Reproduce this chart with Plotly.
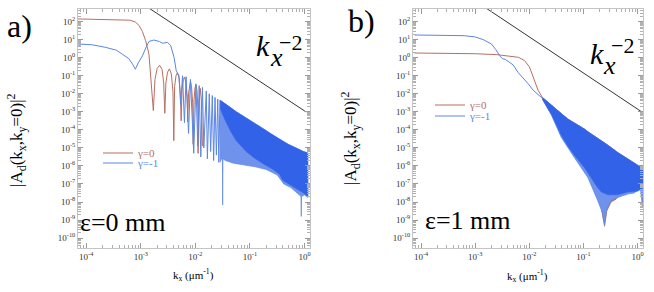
import numpy as np
import plotly.graph_objects as go

# ---------------- data (log10 of kx and of |A_d|^2) -------------
# panel a) eps = 0 mm
a_red_lx = [-4.17, -3.6, -3.4, -3.2, -3.1, -3.03, -2.97, -2.91, -2.85, -2.80, -2.77,
            -2.74, -2.70, -2.655, -2.61, -2.58, -2.56,
            -2.54, -2.51, -2.475, -2.44, -2.41, -2.395,
            -2.38, -2.355, -2.33, -2.30, -2.275, -2.26,
            -2.245, -2.22, -2.20, -2.175, -2.15, -2.14,
            -2.125, -2.105, -2.09, -2.07, -2.05, -2.04,
            -2.025, -2.005, -1.99, -1.97, -1.955, -1.95,
            -1.935, -1.91, -1.89, -1.87]
a_red_ly = [2.15, 2.12, 2.11, 2.08, 1.98, 1.78, 1.45, 0.94, 0.2, -1.66, -2.93,
            -1.2, -0.6, -0.42, -0.65, -1.4, -3.08,
            -1.4, -0.8, -0.62, -0.9, -1.9, -4.6,
            -1.6, -1.0, -0.84, -1.1, -2.0, -3.5,
            -1.8, -1.2, -1.08, -1.35, -2.2, -3.55,
            -2.0, -1.45, -1.3, -1.6, -2.5, -4.8,
            -2.3, -1.65, -1.5, -1.8, -2.8, -5.3,
            -2.5, -1.7, -2.4, -4.9]

a_blue_lx = [-4.17, -3.9, -3.64, -3.45, -3.34, -3.22, -3.15, -3.10, -3.04, -2.97,
             -2.90, -2.85, -2.76, -2.66, -2.60, -2.51, -2.45, -2.39, -2.35, -2.30,
             -2.27, -2.235, -2.20, -2.17, -2.125, -2.09, -2.03, -1.99, -1.955,
             -1.93, -1.90, -1.87, -1.845, -1.80, -1.78, -1.745, -1.72, -1.69,
             -1.665, -1.64, -1.615, -1.59, -1.57, -1.55]
a_blue_ly = [0.76, 0.72, 0.57, 0.42, 0.2, -0.05, -0.36, -0.64, -0.25, 0.1,
             0.6, 0.9, 0.98, 0.9, 0.8, 0.85, 0.66, 0.01, -0.73, -1.0,
             -2.6, -1.0, -3.6, -1.05, -4.2, -1.2, -5.3, -1.45, -4.9,
             -1.55, -5.5, -1.65, -5.0, -1.85, -5.6, -2.0, -5.2, -2.1,
             -5.7, -2.2, -5.4, -2.3, -5.8, -2.35]

a_band_lx = [-1.55, -1.45, -1.35, -1.25, -1.07, -0.90, -0.75, -0.60, -0.46,
             -0.40, -0.30, -0.20, -0.10, -0.02, 0.06]
a_band_top = [-2.35, -2.55, -2.78, -3.0, -3.33, -3.65, -3.95, -4.25, -4.54,
              -4.62, -4.8, -4.95, -5.1, -5.2, -5.28]
a_band_solid = [-2.8, -3.5, -4.1, -4.6, -5.2, -5.6, -5.9, -6.15, -6.45,
                -6.8, -6.95, -7.15, -7.35, -7.5, -7.7]
a_pale_lx = [-1.55, -1.52, -1.505, -1.50, -1.495, -1.45, -1.30, -1.10, -0.90,
             -0.70, -0.50, -0.42, -0.38, -0.25, -0.10, -0.065, -0.06, -0.055,
             0.0, 0.06]
a_pale_bot = [-5.8, -5.6, -5.6, -8.17, -5.6, -5.7, -5.85, -5.95, -6.05,
              -6.2, -6.5, -6.85, -7.0, -7.2, -7.6, -7.7, -8.8, -7.7,
              -7.6, -7.75]

# panel b) eps = 1 mm
b_red_lx = [-4.12, -3.5, -3.0, -2.6, -2.4, -2.2, -2.09, -2.0, -1.95, -1.9, -1.84, -1.76]
b_red_ly = [0.26, 0.25, 0.22, 0.17, 0.10, 0.02, -0.16, -0.5, -0.9, -1.35, -1.8, -2.2]
b_blue_lx = [-4.12, -3.5, -3.2, -3.0, -2.85, -2.70, -2.62, -2.55, -2.50, -2.44,
             -2.38, -2.30, -2.21, -2.12, -2.02, -1.93, -1.84, -1.76]
b_blue_ly = [1.26, 1.25, 1.22, 1.15, 1.0, 0.76, 0.45, 0.11, -0.05, -0.1,
             -0.22, -0.40, -0.81, -1.1, -1.45, -1.8, -2.05, -2.25]

b_band_lx = [-1.76, -1.59, -1.41, -1.29, -1.17, -0.98, -0.92, -0.74, -0.67,
             -0.55, -0.37, -0.18, 0.0, 0.11]
b_band_top = [-2.2, -2.66, -3.1, -3.4, -3.6, -3.96, -4.1, -4.45, -4.6,
              -4.85, -5.25, -5.6, -5.95, -6.17]
b_band_solid = [-2.3, -3.15, -4.3, -4.9, -5.4, -6.1, -6.4, -7.2, -7.45,
                -7.6, -7.6, -7.45, -7.4, -7.2]
b_pale_lx = [-1.76, -1.59, -1.41, -1.17, -0.92, -0.74, -0.65, -0.61, -0.57,
             -0.49, -0.37, -0.18, -0.06, 0.05, 0.09, 0.11]
b_pale_bot = [-2.3, -3.2, -4.42, -5.53, -6.64, -7.9, -8.6, -9.25, -8.4,
              -7.93, -7.75, -7.56, -7.5, -7.2, -8.3, -7.6]
b_redband_lx = [-0.70, -0.65, -0.61, -0.57, -0.49, -0.40]
b_redband_bot = [-7.7, -8.7, -9.35, -8.5, -8.0, -7.85]

# k_x^-2 guide line end points
a_ref_lx = [-2.90, 0.03]
a_ref_ly = [2.85, -3.01]
b_ref_lx = [-2.85, 0.09]
b_ref_ly = [2.85, -3.03]

x_tick_exp = [-4, -3, -2, -1, 0]
y_tick_exp = [2, 1, 0, -1, -2, -3, -4, -5, -6, -7, -8, -9, -10]

RED = "#b86f60"
BLUE_LINE = "#5a86e4"
BLUE_BAND = "#3262e8"
BLUE_PALE = "#6f93ec"
SERIF = "Liberation Serif"

W, H = 654, 292


def p(v):
    return [10.0 ** t for t in v]


def poly(x_top, y_top, x_bot, y_bot):
    return p(list(x_top) + list(x_bot)[::-1]), p(list(y_top) + list(y_bot)[::-1])


fig = go.Figure()


def add_panel(xa, ya, red_lx, red_ly, blue_lx, blue_ly, band_lx, band_top,
              band_solid, pale_lx, pale_bot, ref_lx, ref_ly, lg_red, lg_blue,
              redband=None):
    if redband is not None:
        xs, ys = poly(band_lx, band_top, redband[0], redband[1])
        fig.add_trace(go.Scatter(x=xs, y=ys, fill="toself", fillcolor=RED,
                                 line=dict(color=RED, width=0.8), mode="lines",
                                 showlegend=False, xaxis=xa, yaxis=ya, hoverinfo="skip"))
    fig.add_trace(go.Scatter(x=p(red_lx), y=p(red_ly), mode="lines",
                             line=dict(color=RED, width=1), name="γ=0",
                             legend=lg_red, xaxis=xa, yaxis=ya))
    xs, ys = poly(band_lx, band_top, pale_lx, pale_bot)
    fig.add_trace(go.Scatter(x=xs, y=ys, fill="toself", fillcolor=BLUE_PALE,
                             line=dict(color=BLUE_LINE, width=0.7), mode="lines",
                             showlegend=False, xaxis=xa, yaxis=ya, hoverinfo="skip"))
    xs, ys = poly(band_lx, band_top, band_lx, band_solid)
    fig.add_trace(go.Scatter(x=xs, y=ys, fill="toself", fillcolor=BLUE_BAND,
                             line=dict(color=BLUE_BAND, width=0.5), mode="lines",
                             showlegend=False, xaxis=xa, yaxis=ya, hoverinfo="skip"))
    fig.add_trace(go.Scatter(x=p(blue_lx), y=p(blue_ly), mode="lines",
                             line=dict(color=BLUE_LINE, width=1), name="γ=-1",
                             legend=lg_blue, xaxis=xa, yaxis=ya))
    fig.add_trace(go.Scatter(x=p(ref_lx), y=p(ref_ly), mode="lines",
                             line=dict(color="#333333", width=1),
                             showlegend=False, xaxis=xa, yaxis=ya))


add_panel("x", "y", a_red_lx, a_red_ly, a_blue_lx, a_blue_ly, a_band_lx, a_band_top,
          a_band_solid, a_pale_lx, a_pale_bot, a_ref_lx, a_ref_ly, "legend", "legend2")
add_panel("x2", "y2", b_red_lx, b_red_ly, b_blue_lx, b_blue_ly, b_band_lx, b_band_top,
          b_band_solid, b_pale_lx, b_pale_bot, b_ref_lx, b_ref_ly, "legend3", "legend4",
          redband=(b_redband_lx, b_redband_bot))

x_minor = [m * 10.0 ** e for e in range(-5, 1) for m in range(2, 10)]
y_minor = [m * 10.0 ** e for e in range(-11, 3) for m in range(2, 10)]


def sup(e):
    return "10<sup>%d</sup>" % e


xcommon = dict(type="log", range=[-4.15, 0.1], showline=True, linecolor="#c4c4c4",
               linewidth=1, mirror="allticks", ticks="inside", ticklen=5,
               tickcolor="#9a9a9a", tickwidth=1, showgrid=False,
               tickmode="array", tickvals=p(x_tick_exp),
               ticktext=[sup(e) for e in x_tick_exp],
               tickfont=dict(family=SERIF, size=9, color="#333"),
               minor=dict(ticks="inside", ticklen=3, tickcolor="#b0b0b0",
                          tickmode="array", tickvals=x_minor, showgrid=False))
ycommon = dict(type="log", range=[-10.55, 2.7], showline=True, linecolor="#c4c4c4",
               linewidth=1, mirror="allticks", ticks="inside", ticklen=5,
               tickcolor="#9a9a9a", tickwidth=1, showgrid=False,
               tickmode="array", tickvals=p(y_tick_exp),
               ticktext=[sup(e) for e in y_tick_exp],
               tickfont=dict(family=SERIF, size=9, color="#333"),
               minor=dict(ticks="inside", ticklen=3, tickcolor="#b0b0b0",
                          tickmode="array", tickvals=y_minor, showgrid=False))

ydom = [1 - 248 / H, 1 - 9 / H]
fig.update_layout(
    width=W, height=H, margin=dict(l=0, r=0, t=0, b=0),
    paper_bgcolor="white", plot_bgcolor="white",
    xaxis=dict(domain=[78 / W, 310 / W], anchor="y", **xcommon),
    yaxis=dict(domain=ydom, anchor="x", **ycommon),
    xaxis2=dict(domain=[413 / W, 643 / W], anchor="y2", **xcommon),
    yaxis2=dict(domain=ydom, anchor="x2", **ycommon),
)


def lg(xpx, ypx, color):
    return dict(x=xpx / W, y=1 - ypx / H, xanchor="left", yanchor="middle",
                bgcolor="rgba(0,0,0,0)", borderwidth=0,
                font=dict(family=SERIF, size=11, color=color),
                itemwidth=30, tracegroupgap=0)


fig.update_layout(legend=lg(98, 153, RED), legend2=lg(98, 163, BLUE_LINE),
                  legend3=lg(430, 105, RED), legend4=lg(430, 116, BLUE_LINE))


def ann(xpx, ypx, text, size, **kw):
    fig.add_annotation(x=xpx / W, y=1 - ypx / H, xref="paper", yref="paper",
                       text=text, showarrow=False, xanchor="center", yanchor="middle",
                       font=dict(family=SERIF, size=size, color="black"), **kw)


ann(19, 26, "a)", 32)
ann(361, 21, "b)", 32)
ylab = "|A<sub>d</sub>(k<sub>x</sub>,k<sub>y</sub>=0)|<sup>2</sup>"
ann(17, 140, ylab, 17, textangle=-90)
ann(350, 138, ylab, 17, textangle=-90)
xlab = "k<sub>x</sub> (μm<sup>-1</sup>)"
ann(193, 275, xlab, 11)
ann(527, 276, xlab, 11)
ann(123, 222, "ε=0 mm", 26)
ann(468, 220, "ε=1 mm", 26)
# k_x^-2 labels
for (kx, ky, xx, xy, sx, sy) in [(263, 45, 276, 57, 290, 42), (597, 54, 609, 65, 622, 46)]:
    ann(kx, ky, "<i>k</i>", 30)
    ann(xx, xy, "<i>x</i>", 26)
    ann(sx, sy, "−2", 22)

fig.write_html("out.html", config={"displayModeBar": False},
               post_script="document.body.style.margin='0px';")
